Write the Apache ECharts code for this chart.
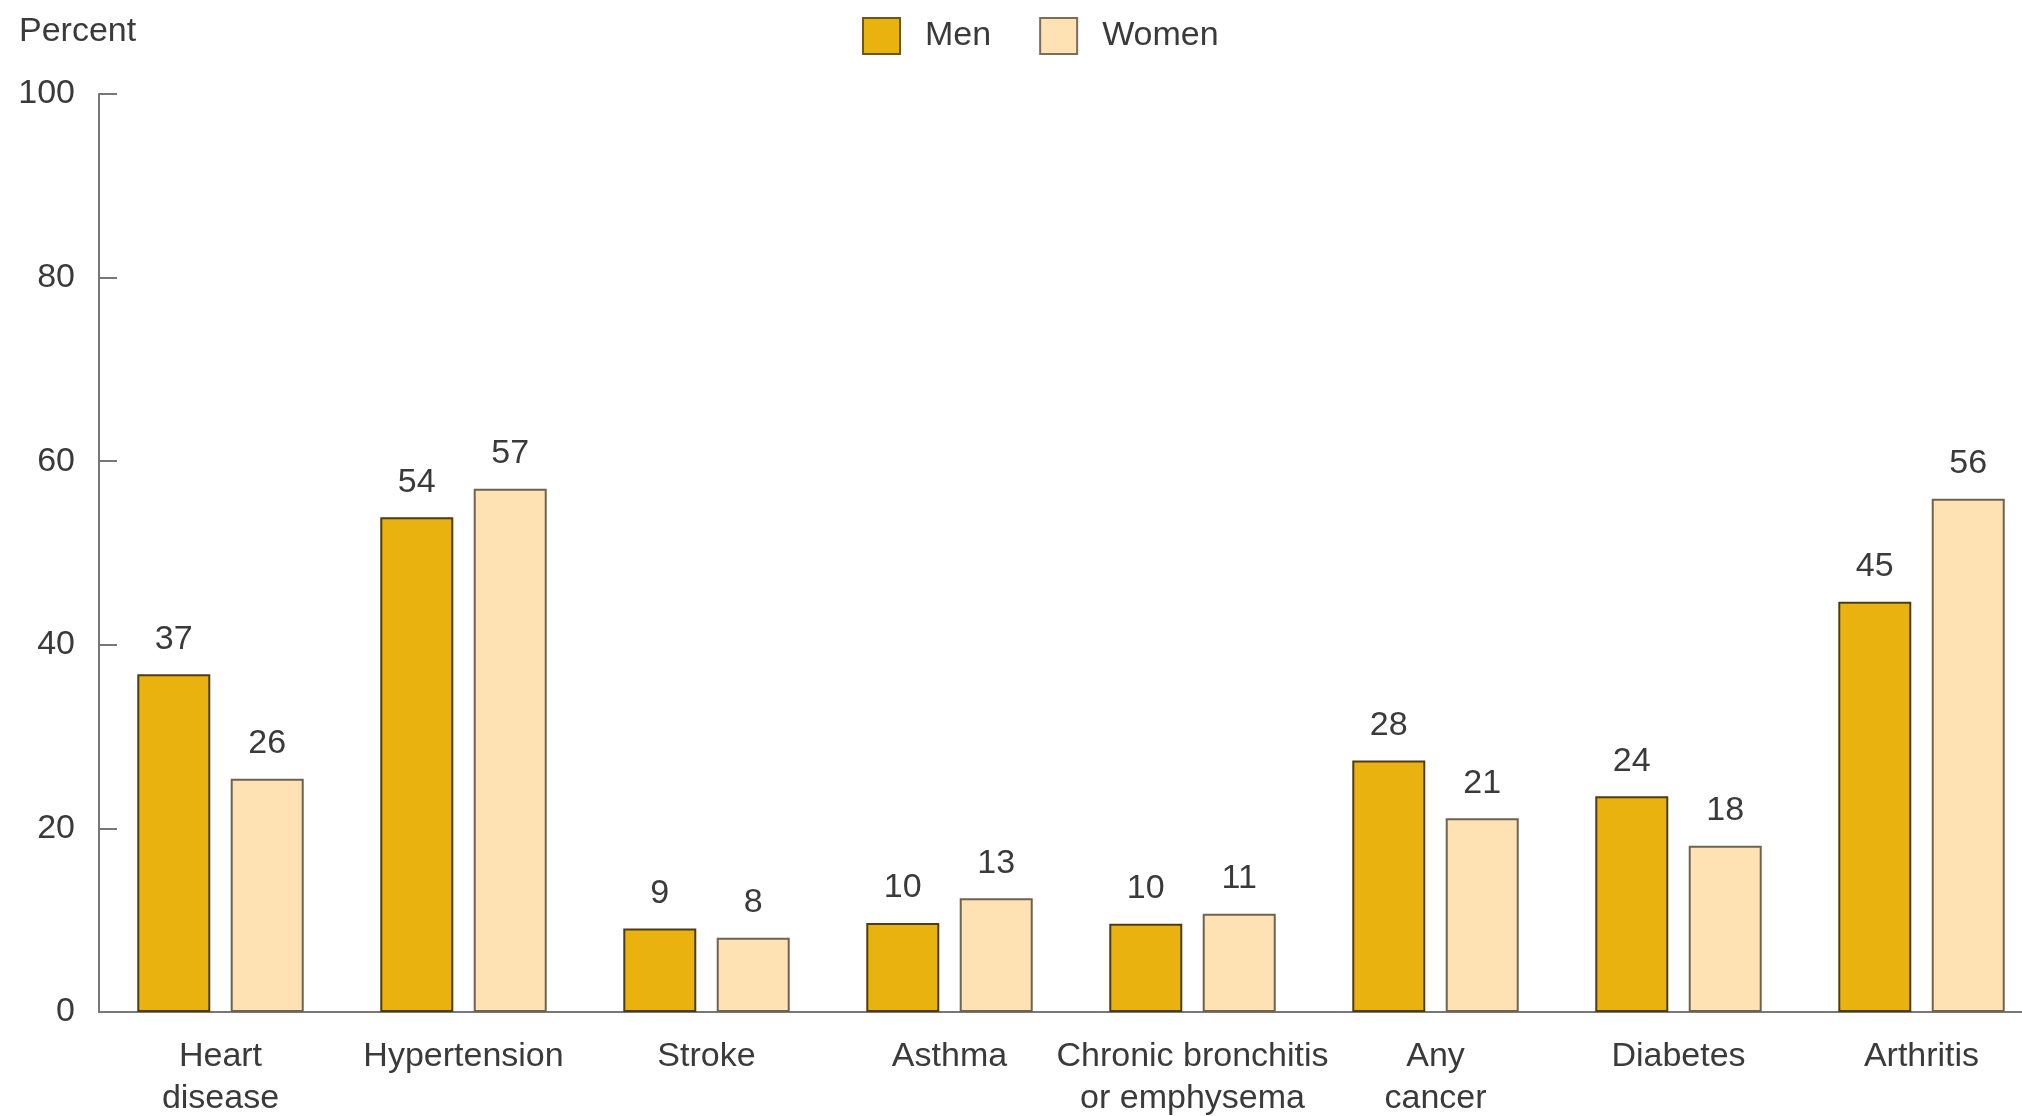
<!DOCTYPE html>
<html>
<head>
<meta charset="utf-8">
<script src="https://cdn.jsdelivr.net/npm/echarts@6/dist/echarts.min.js"></script>
<style>
html,body{margin:0;padding:0;background:#fff;}
#chart{width:2022px;height:1116px;}
</style>
</head>
<body>
<div id="chart"></div>
<script>
const categories = ['Heart\ndisease', 'Hypertension', 'Stroke', 'Asthma', 'Chronic bronchitis\nor emphysema', 'Any\ncancer', 'Diabetes', 'Arthritis'];
const menValues = [36.8, 53.9, 9.1, 9.7, 9.6, 27.4, 23.5, 44.7];
const womenValues = [25.4, 57.0, 8.1, 12.4, 10.7, 21.1, 18.1, 55.9];
const menLabels = [37, 54, 9, 10, 10, 28, 24, 45];
const womenLabels = [26, 57, 8, 13, 11, 21, 18, 56];
const yTicks = [0, 20, 40, 60, 80, 100];

const FONT = '"Liberation Sans", Arial, sans-serif';
const TXT = '#3a3a3a';
const AX = '#777777';

const chart = echarts.init(document.getElementById('chart'), null, {renderer: 'canvas'});
chart.setOption({
  animation: false,
  backgroundColor: '#ffffff',
  title: {
    text: 'Percent',
    left: 14,
    top: 10,
    textStyle: {fontFamily: FONT, fontSize: 34, fontWeight: 'normal', color: TXT}
  },
  legend: {
    top: 12,
    left: 857,
    icon: 'rect',
    itemWidth: 37,
    itemHeight: 36,
    itemGap: 48,
    textStyle: {fontFamily: FONT, fontSize: 34, color: TXT, padding: [0, 0, 0, 20]},
    data: [
      {name: 'Men', itemStyle: {color: '#E9B20E', borderColor: '#6b5520', borderWidth: 2}},
      {name: 'Women', itemStyle: {color: '#FFE2B3', borderColor: '#7a6e58', borderWidth: 2}}
    ]
  },
  grid: {left: 99, width: 1944, top: 94, bottom: 104, containLabel: false, outerBoundsMode: 'none'},
  xAxis: {
    type: 'category',
    data: categories,
    axisLine: {show: true, lineStyle: {color: AX, width: 2}},
    axisTick: {show: false},
    axisLabel: {
      interval: 0,
      fontFamily: FONT, fontSize: 34, color: TXT,
      lineHeight: 42, margin: 24
    }
  },
  yAxis: {
    type: 'value',
    min: 0, max: 100, interval: 20,
    splitLine: {show: false},
    axisLine: {show: true, lineStyle: {color: AX, width: 2}},
    axisTick: {show: true, inside: true, length: 18, lineStyle: {color: AX, width: 2}},
    axisLabel: {
      fontFamily: FONT, fontSize: 34, color: TXT, margin: 24,
      formatter: function (v) { return yTicks.indexOf(v) >= 0 ? String(v) : ''; }
    }
  },
  series: [
    {
      name: 'Men',
      type: 'bar',
      data: menValues,
      barWidth: 73,
      barGap: '28%',
      itemStyle: {color: '#E9B20E', borderColor: '#4d3d14', borderWidth: 2},
      label: {
        show: true, position: 'top', distance: 18,
        fontFamily: FONT, fontSize: 34, color: TXT,
        formatter: function (p) { return String(menLabels[p.dataIndex]); }
      }
    },
    {
      name: 'Women',
      type: 'bar',
      data: womenValues,
      barWidth: 73,
      barGap: '28%',
      itemStyle: {color: '#FFE2B3', borderColor: '#6e6350', borderWidth: 2},
      label: {
        show: true, position: 'top', distance: 18,
        fontFamily: FONT, fontSize: 34, color: TXT,
        formatter: function (p) { return String(womenLabels[p.dataIndex]); }
      }
    }
  ]
});
</script>
</body>
</html>
